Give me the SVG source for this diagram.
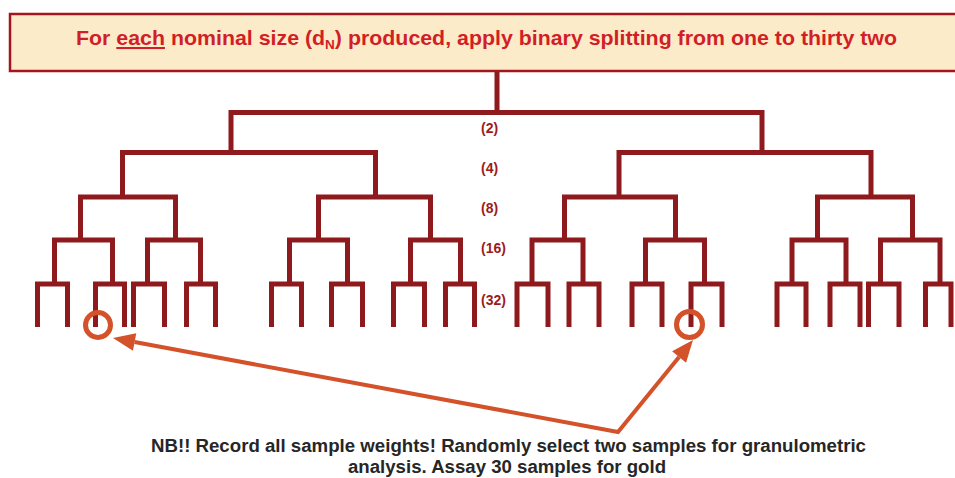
<svg xmlns="http://www.w3.org/2000/svg" width="955" height="478" viewBox="0 0 955 478">
<style>
.tree{fill:none;stroke:#8E1A1E;stroke-width:5;stroke-linejoin:miter;stroke-linecap:butt}
.lvl{font-family:"Liberation Sans",Arial,sans-serif;font-weight:bold;font-size:14px;fill:#9B1B21}
.hdr{font-family:"Liberation Sans",Arial,sans-serif;font-weight:bold;font-size:20.5px;fill:#D21E27}
.note{font-family:"Liberation Sans",Arial,sans-serif;font-weight:bold;font-size:17.5px;fill:#262626;text-anchor:middle}
.ring{fill:none;stroke:#D4522A;stroke-width:5}
.conn{fill:none;stroke:#D4522A;stroke-width:4;stroke-linejoin:miter}
</style>
<defs>
<marker id="ah" markerUnits="userSpaceOnUse" markerWidth="24" markerHeight="18" viewBox="0 0 22 18" refX="0" refY="9" orient="auto-start-reverse">
<path d="M0 0 L22 9 L0 18 Z" fill="#D4522A"/>
</marker>
</defs>
<g id="header">
<rect x="10" y="14" width="960" height="57" fill="#FCEBC8" stroke="#A3161D" stroke-width="2.5"/>
<text class="hdr" x="76" y="45" textLength="821" lengthAdjust="spacingAndGlyphs">For <tspan text-decoration="underline">each</tspan> nominal size (d<tspan font-size="13" dy="4">N</tspan><tspan dy="-4">) produced, apply binary splitting from one to thirty two</tspan></text>
</g>
<g id="tree">
<path class="tree" d="M497 72 V112.5 M231 153 V112.5 H762 V153"/>
<path class="tree" d="M122.5 197 V152.5 H375.5 V197 M619 197 V152.5 H871 V197"/>
<path class="tree" d="M80.5 240 V197 H175.5 V240 M318.5 240 V197 H430.5 V240 M564.5 240 V197 H675.5 V240 M817.5 240 V197 H912.5 V240"/>
<path class="tree" d="M54.5 284 V240 H112.5 V284 M147.5 284 V240 H200.5 V284 M289.5 284 V240 H347.5 V284 M410.5 284 V240 H460.5 V284 M532 284 V240 H583 V284 M645.5 284 V240 H704.5 V284 M792 284 V240 H846 V284 M880.5 284 V240 H940 V284"/>
<path class="tree" d="M37.5 327 V284 H67.5 V327 M95.5 327 V284 H124.5 V327 M133.5 327 V284 H164.5 V327 M186.5 327 V284 H215.5 V327 M271.5 327 V284 H301.5 V327 M331.5 327 V284 H362.5 V327 M393.5 327 V284 H424.5 V327 M445.5 327 V284 H474.5 V327"/>
<path class="tree" d="M517 327 V284 H548 V327 M569 327 V284 H599 V327 M632 327 V284 H662 V327 M691 327 V284 H722 V327 M777 327 V284 H806 V327 M830 327 V284 H860 V327 M868.5 327 V284 H899 V327 M925.5 327 V284 H951 V327"/>
</g>
<g id="levels">
<text class="lvl" x="481" y="133">(2)</text>
<text class="lvl" x="481" y="173">(4)</text>
<text class="lvl" x="481" y="213">(8)</text>
<text class="lvl" x="481" y="253">(16)</text>
<text class="lvl" x="481" y="305">(32)</text>
</g>
<g id="sample-left">
<circle class="ring" cx="98" cy="325" r="12.5"/>
</g>
<g id="sample-right">
<circle class="ring" cx="689.5" cy="324.5" r="13"/>
</g>
<g id="note">
<text class="note" x="508.5" y="452" textLength="715" lengthAdjust="spacingAndGlyphs">NB!! Record all sample weights! Randomly select two samples for granulometric</text>
<text class="note" x="507" y="473" textLength="318" lengthAdjust="spacingAndGlyphs">analysis. Assay 30 samples for gold</text>
</g>
<g id="connectors">
<path class="conn" d="M134.6 342 L618 432 L679.1 357" marker-start="url(#ah)" marker-end="url(#ah)"/>
</g>
</svg>
